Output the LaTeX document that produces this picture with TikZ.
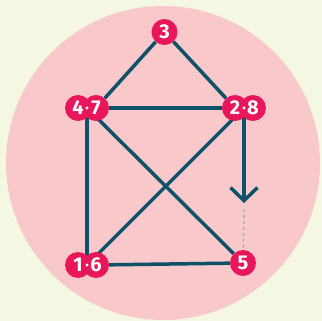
\documentclass[tikz,border=0pt]{standalone}
\usepackage{fontspec}
\setmainfont{Fira Sans}
\usetikzlibrary{arrows.meta,backgrounds}
\definecolor{paperc}{RGB}{243,247,227}
\definecolor{discc}{RGB}{248,200,203}
\definecolor{vertc}{RGB}{232,22,90}
\definecolor{edgec}{RGB}{14,82,106}
\definecolor{hintc}{RGB}{170,170,178}

\begin{document}
\begin{tikzpicture}[x=1pt, y=-1pt,
  vert/.style={circle, fill=vertc, text=white, inner sep=0pt, minimum size=26pt,
               font=\fontsize{20}{20}\selectfont\bfseries},
  pip/.style={circle, fill=white, inner sep=0pt, minimum size=3.2pt},
  link/.style={edgec, line width=3.5pt},
  move/.style={link, -{Straight Barb[length=13pt, width=27pt, sharp]}},
  hint/.style={hintc, line width=1.4pt, dash pattern=on 3pt off 3pt},
]
\useasboundingbox (0,0) rectangle (322,321);

% vertices
\node[vert] (n3) at (164.5,32) {3};

\node[vert] (n4) at (78,108) {4};
\node[vert] (n7) at (96,108) {7};
\node[pip] (d47) at (87,108) {};

\node[vert] (n2) at (235,108) {2};
\node[vert] (n8) at (253,108) {8};
\node[pip] (d28) at (244,108) {};

\node[vert] (n1) at (78,265) {1};
\node[vert] (n6) at (96,265) {6};
\node[pip] (d16) at (87,265) {};

\node[vert] (n5) at (243,263) {5};

\coordinate (tip) at (244,203);
\coordinate (gap) at (244,209);

% disc and edges behind the vertices
\begin{scope}[on background layer]
\fill[paperc] (0,0) rectangle (322,321);
\fill[discc] (163,163) circle[radius=157pt];

\draw[link] (n3) -- (n7);
\draw[link] (n3) -- (n2);
\draw[link] (n7) -- (n2);
\draw[link] (d47) -- (d16);
\draw[link] (d47) -- (n5);
\draw[link] (d28) -- (d16);
\draw[link] (n6) -- (n5);

% next move
\draw[move] (d28) -- (tip);
\draw[hint] (gap) -- (n5);
\end{scope}

\end{tikzpicture}
\end{document}
